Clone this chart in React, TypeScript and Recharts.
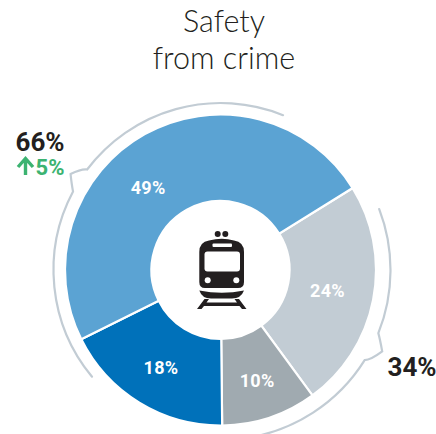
import { Cell, Pie, PieChart } from "recharts";

const segments = ["Somewhat safe", "Very unsafe", "Somewhat unsafe", "Very safe"];
const values = [24, 10, 18, 49];
const sliceColors = ["#c2ccd4", "#a0aab0", "#0071ba", "#5ba3d3"];

const titleLines = ["Safety", "from crime"];
const groupTotals = ["34%", "66%"];
const groupChange = "5%";

const CX = 220.5;
const CY = 270;
// label placement differs a little per slice in the original
const labelRadius = [109, 116, 114, 110];
const labelNudge = [0, 0, 0, -12];

// angles clockwise from 12 o'clock
const polar = (angle: number, r: number) => {
  const a = (angle * Math.PI) / 180;
  return { x: CX + r * Math.sin(a), y: CY - r * Math.cos(a) };
};

const bracket = (start: number, base1: number, tip: number, base2: number, end: number, r: number, tipR: number) => {
  const s = polar(start, r);
  const b1 = polar(base1, r);
  const c1 = polar(base1 + (tip - base1) * 0.35, r + 4);
  const t = polar(tip, tipR);
  const c2 = polar(base2 - (base2 - tip) * 0.2, r + 5);
  const b2 = polar(base2, r);
  const e = polar(end, r);
  return [
    `M${s.x} ${s.y}`,
    `A${r} ${r} 0 0 1 ${b1.x} ${b1.y}`,
    `Q${c1.x} ${c1.y} ${t.x} ${t.y}`,
    `Q${c2.x} ${c2.y} ${b2.x} ${b2.y}`,
    `A${r} ${r} 0 0 1 ${e.x} ${e.y}`,
  ].join(" ");
};

const SliceLabel = (props: any) => {
  const { midAngle, index } = props;
  const p = polar(90 - midAngle + labelNudge[index], labelRadius[index]);
  return (
    <text
      x={p.x}
      y={p.y}
      textAnchor="middle"
      dominantBaseline="central"
      fill="#fff"
      fontFamily="Roboto"
      fontWeight={700}
      fontSize={18}
      letterSpacing={0.3}
    >
      {values[index]}%
    </text>
  );
};

const TrainIcon = () => (
  <g fill="#231f20">
    <circle cx={217.7} cy={234} r={3} />
    <circle cx={225.3} cy={234} r={3} />
    <path d="M199.3 252 Q199.3 242 209 240.5 Q222 237 234 240.5 Q244 242 244 252 L244 282 Q244 288 238 288 L205 288 Q199.3 288 199.3 282 Z" />
    <rect x={204.5} y={251.5} width={35.5} height={20} rx={3} fill="#fff" />
    <rect x={212.5} y={243.5} width={19.5} height={3.5} rx={1} fill="#fff" />
    <circle cx={207.7} cy={280.3} r={3} fill="#fff" />
    <circle cx={236.3} cy={280.3} r={3} fill="#fff" />
    <path d="M199.3 290.5 Q222 295 244 290.5 Q241 298.5 232 298.5 L211 298.5 Q202 298.5 199.3 290.5 Z" />
    <path d="M204.5 299 L209 299 L206.5 302.5 L237 302.5 L234.5 299 L239 299 L246.5 309 L242 309 L239.5 306 L204 306 L201.5 309 L197 309 Z" />
  </g>
);

export default function App() {
  return (
    <div style={{ position: "absolute", left: 0, top: 0, width: 436, height: 434, overflow: "hidden", background: "#fff" }}>
      <PieChart width={436} height={434} margin={{ top: 0, right: 0, bottom: 0, left: 0 }}>
        <Pie
          data={values.map((value, i) => ({ name: segments[i], value }))}
          dataKey="value"
          cx={CX}
          cy={CY}
          innerRadius={69}
          outerRadius={155.5}
          startAngle={31.8}
          endAngle={-328.2}
          stroke="#fff"
          strokeWidth={2.2}
          label={SliceLabel}
          labelLine={false}
          isAnimationActive={false}
        >
          {values.map((_, i) => (
            <Cell key={segments[i]} fill={sliceColors[i]} />
          ))}
        </Pie>
        <path d={bracket(69, 111.8, 116.7, 122, 172, 170, 181)} fill="none" stroke="#c2ccd4" strokeWidth={2.2} strokeLinecap="round" />
        <path d={bracket(230.3, 298, 302.6, 307, 382, 167, 178)} fill="none" stroke="#c2ccd4" strokeWidth={2.2} strokeLinecap="round" />
        <TrainIcon />
        {titleLines.map((line, i) => (
          <text key={line} x={224} y={32 + i * 37} textAnchor="middle" fontFamily="Lato" fontWeight={300} fontSize={30.5} fill="#231f20">
            {line}
          </text>
        ))}
        <text x={412} y={376} textAnchor="middle" fontFamily="Roboto" fontWeight={700} fontSize={26} fill="#231f20">
          {groupTotals[0]}
        </text>
        <text x={40} y={151} textAnchor="middle" fontFamily="Roboto" fontWeight={700} fontSize={26} fill="#231f20">
          {groupTotals[1]}
        </text>
        <text x={50} y={175} textAnchor="middle" fontFamily="Roboto" fontWeight={700} fontSize={22} fill="#3cb371">
          {groupChange}
        </text>
        <path d="M18 167 L25.5 158.5 L33 167 M25.5 159 L25.5 175" fill="none" stroke="#3cb371" strokeWidth={3.4} />
      </PieChart>
    </div>
  );
}
